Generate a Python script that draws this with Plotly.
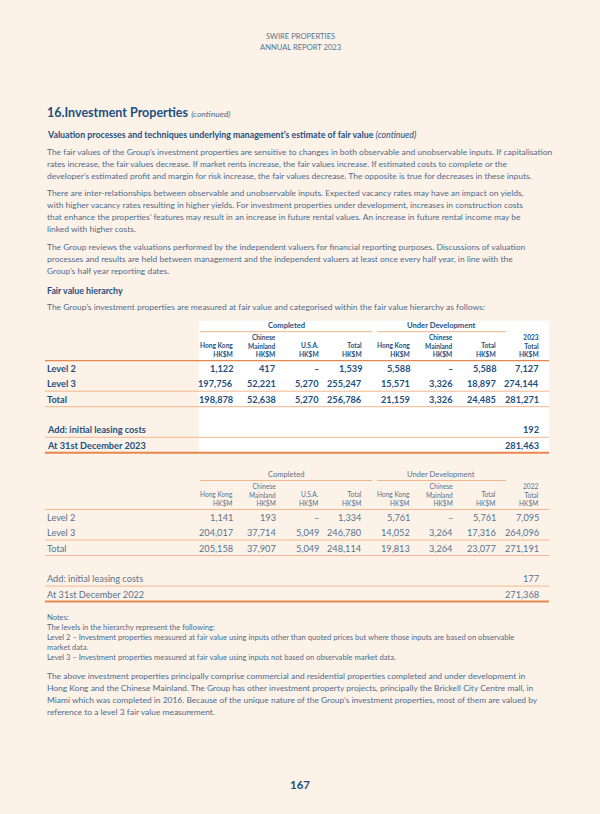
import plotly.graph_objects as go

# colores de la pagina
bg = '#FDF2E8'
navy = '#1E4F7F'
body = '#4D6B8C'
light = '#56728F'
naranja = '#E8874C'
naranja_claro = '#F1B68C'
fuente = 'Lato, Roboto, sans-serif'

# Datos de las tablas
cabecera_1 = ['', 'Chinese', '', '', '', 'Chinese', '', '{year}']
cabecera_2 = ['Hong Kong', 'Mainland', 'U.S.A.', 'Total', 'Hong Kong', 'Mainland', 'Total', 'Total']
cabecera_3 = ['HK$M'] * 8
grupos = ['Completed', 'Under Development']
filas = ['Level 2', 'Level 3', 'Total']

nivel2_2023 = [1122, 417, None, 1539, 5588, None, 5588, 7127]
nivel3_2023 = [197756, 52221, 5270, 255247, 15571, 3326, 18897, 274144]
total_2023 = [198878, 52638, 5270, 256786, 21159, 3326, 24485, 281271]
arrendamiento_2023 = 192
cierre_2023 = 281463

nivel2_2022 = [1141, 193, None, 1334, 5761, None, 5761, 7095]
nivel3_2022 = [204017, 37714, 5049, 246780, 14052, 3264, 17316, 264096]
total_2022 = [205158, 37907, 5049, 248114, 19813, 3264, 23077, 271191]
arrendamiento_2022 = 177
cierre_2022 = 271368

# Posiciones de columnas (borde derecho)
col_x = [234, 277, 320, 363, 411, 454, 497, 540]
izq = 46
der = 549

fig = go.Figure()
anots = []
formas = []


def texto(x, y, s, size=8.45, color=body, anchor='left', bold=False, yanchor='middle'):
    anots.append(dict(x=x, y=y, text=s, showarrow=False, xanchor=anchor, yanchor=yanchor,
                      align=anchor if anchor != 'center' else 'center', borderpad=0,
                      font=dict(family=fuente, size=size, color=color,
                                weight='bold' if bold else 'normal')))


def linea(x0, x1, y, color=naranja_claro, w=1):
    formas.append(dict(type='line', x0=x0, x1=x1, y0=y, y1=y, line=dict(color=color, width=w)))


def fmt(v):
    return '–' if v is None else f'{v:,}'


# Encabezado
texto(300, 36, 'SWIRE PROPERTIES', size=7.6, color=light, anchor='center')
texto(300, 46.5, 'ANNUAL REPORT 2023', size=7.6, color=light, anchor='center')

texto(izq, 112, '<b>16.Investment Properties</b> <i><span style="font-size:8.5px;font-weight:normal;fill:#4D6B8C">(continued)</span></i>',
      size=12.5, color=navy)
texto(izq, 134, '<b>Valuation processes and techniques underlying management’s estimate of fair value</b> '
      '<i>(continued)</i>', size=8.8, color=navy)

parrafos = [
    (152, ['The fair values of the Group’s investment properties are sensitive to changes in both observable and unobservable inputs. If capitalisation',
           'rates increase, the fair values decrease. If market rents increase, the fair values increase. If estimated costs to complete or the',
           'developer’s estimated profit and margin for risk increase, the fair values decrease. The opposite is true for decreases in these inputs.']),
    (193, ['There are inter-relationships between observable and unobservable inputs. Expected vacancy rates may have an impact on yields,',
           'with higher vacancy rates resulting in higher yields. For investment properties under development, increases in construction costs',
           'that enhance the properties’ features may result in an increase in future rental values. An increase in future rental income may be',
           'linked with higher costs.']),
    (246.7, ['The Group reviews the valuations performed by the independent valuers for financial reporting purposes. Discussions of valuation',
             'processes and results are held between management and the independent valuers at least once every half year, in line with the',
             'Group’s half year reporting dates.']),
]
for y0, lineas in parrafos:
    for i, l in enumerate(lineas):
        texto(izq, y0 + i * 12, l)

texto(izq, 290, 'Fair value hierarchy', size=8.8, color=navy, bold=True)
texto(izq, 306.7, 'The Group’s investment properties are measured at fair value and categorised within the fair value hierarchy as follows:')


def tabla(y_cab, year, n2, n3, tot, arr, cierre, color, negrita):
    # fondo blanco solo en la tabla de 2023
    if negrita:
        formas.append(dict(type='rect', x0=199, x1=der, y0=y_cab - 40, y1=y_cab + 91,
                           fillcolor='white', line=dict(width=0), layer='below'))
    g = 7.6
    texto(286, y_cab - 36, grupos[0], size=g, color=color, anchor='center', bold=negrita)
    texto(441, y_cab - 36, grupos[1], size=g, color=color, anchor='center', bold=negrita)
    linea(200, 372, y_cab - 29)
    linea(377, 506, y_cab - 29)
    for j, x in enumerate(col_x):
        partes = [p.format(year=year) for p in (cabecera_1[j], cabecera_2[j], cabecera_3[j]) if p]
        texto(x, y_cab - 2, '<br>'.join(partes), size=6.6, color=color, anchor='right',
              bold=negrita, yanchor='bottom')
    linea(izq - 1, der, y_cab, color=naranja if negrita else naranja_claro, w=1.3 if negrita else 1)
    ys = [y_cab + 8, y_cab + 23, y_cab + 38.5]
    for nombre, vals, y in zip(filas, [n2, n3, tot], ys):
        texto(izq, y, nombre, size=9.2, color=color, bold=negrita)
        for x, v in zip(col_x, vals):
            texto(x, y, fmt(v), size=9.2, color=color, anchor='right', bold=negrita)
    linea(izq - 1, der, y_cab + 30.5)
    linea(izq - 1, der, y_cab + 46)
    texto(izq, y_cab + 68.8, 'Add: initial leasing costs', size=9.2, color=color, bold=negrita)
    texto(col_x[-1], y_cab + 68.8, fmt(arr), size=9.2, color=color, anchor='right', bold=negrita)
    linea(izq - 1, der, y_cab + 76.6)
    texto(izq, y_cab + 84.5, f'At 31st December {year}', size=9.2, color=color, bold=negrita)
    texto(col_x[-1], y_cab + 84.5, fmt(cierre), size=9.2, color=color, anchor='right', bold=negrita)
    linea(izq - 1, der, y_cab + 92, color=naranja, w=2)


tabla(360.7, 2023, nivel2_2023, nivel3_2023, total_2023, arrendamiento_2023, cierre_2023, navy, True)
tabla(509.5, 2022, nivel2_2022, nivel3_2022, total_2022, arrendamiento_2022, cierre_2022, light, False)

# Notas
notas = ['Notes:',
         'The levels in the hierarchy represent the following:',
         'Level 2 – Investment properties measured at fair value using inputs other than quoted prices but where those inputs are based on observable',
         'market data.',
         'Level 3 – Investment properties measured at fair value using inputs not based on observable market data.']
for i, l in enumerate(notas):
    texto(izq, 617 + i * 10.1, l, size=7.6)

final = ['The above investment properties principally comprise commercial and residential properties completed and under development in',
         'Hong Kong and the Chinese Mainland. The Group has other investment property projects, principally the Brickell City Centre mall, in',
         'Miami which was completed in 2016. Because of the unique nature of the Group’s investment properties, most of them are valued by',
         'reference to a level 3 fair value measurement.']
for i, l in enumerate(final):
    texto(izq, 676 + i * 12.1, l)

texto(300, 784, '167', size=11.5, color=navy, anchor='center', bold=True)

fig.update_layout(width=600, height=814, margin=dict(l=0, r=0, t=0, b=0),
                  paper_bgcolor=bg, plot_bgcolor=bg, showlegend=False,
                  xaxis=dict(range=[0, 600], visible=False, fixedrange=True),
                  yaxis=dict(range=[814, 0], visible=False, fixedrange=True),
                  annotations=anots, shapes=formas)
fig.write_html('out.html', config={'displayModeBar': False},
               post_script="document.body.style.margin='0';document.body.style.overflow='hidden';"
                           "document.body.style.background='" + bg + "';")
